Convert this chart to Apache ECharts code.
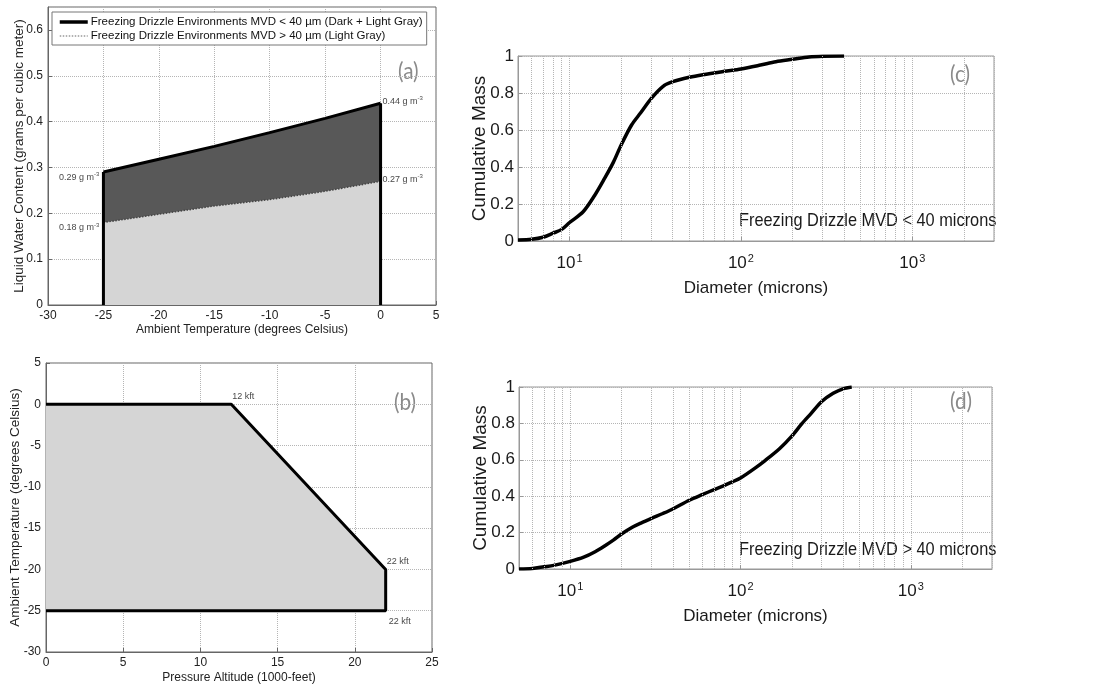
<!DOCTYPE html>
<html><head><meta charset="utf-8">
<script src="https://cdn.jsdelivr.net/npm/echarts@6/dist/echarts.min.js"></script>
<style>html,body{margin:0;padding:0;background:#fff}#c{width:1115px;height:685px}</style>
</head><body><div id="c"></div>
<script>
// ---------- Panel (a): LWC vs temperature ----------
const aTemps = [-25, -20, -15, -10, -5, 0];
const aUpperLWC = [0.29, 0.318, 0.346, 0.376, 0.407, 0.44];
const aLowerLWC = [0.18, 0.198, 0.216, 0.23, 0.248, 0.27];
const aNoteX = [0, -25, -25, 0];
const aNoteY = [0.44, 0.29, 0.18, 0.27];
const aNoteText = ['0.44', '0.29', '0.18', '0.27'];
const legendNames = [
  'Freezing Drizzle Environments MVD < 40 \u00b5m (Dark + Light Gray)',
  'Freezing Drizzle Environments MVD > 40 \u00b5m (Light Gray)'
];
// ---------- Panel (b): temperature vs altitude envelope ----------
const bAlt = [0, 12, 22, 22, 0];
const bTemp = [0, 0, -20, -25, -25];
const bNoteX = [12, 22, 22];
const bNoteY = [0, -20, -25];
const bNoteText = ['12 kft', '22 kft', '22 kft'];
// ---------- Panel (c): cumulative mass, MVD < 40 ----------
const cDiam = [5, 6, 7, 8, 9, 10, 12, 14, 16, 18, 20, 23, 26, 30, 35, 40, 50, 60, 80, 100, 130, 160, 200, 250, 300, 400];
const cMass = [0.005, 0.009, 0.02, 0.042, 0.063, 0.1, 0.158, 0.246, 0.338, 0.425, 0.519, 0.627, 0.693, 0.771, 0.835, 0.861, 0.885, 0.899, 0.917, 0.93, 0.951, 0.969, 0.982, 0.995, 0.999, 1.0];
// ---------- Panel (d): cumulative mass, MVD > 40 ----------
const dDiam = [5, 6, 7, 8, 10, 12, 14, 16, 18, 20, 23, 26, 30, 35, 40, 50, 60, 70, 80, 90, 100, 120, 140, 170, 200, 230, 260, 300, 350, 400, 450];
const dMass = [0.0, 0.003, 0.012, 0.02, 0.042, 0.065, 0.095, 0.128, 0.16, 0.192, 0.228, 0.252, 0.278, 0.305, 0.33, 0.378, 0.41, 0.436, 0.458, 0.48, 0.5, 0.55, 0.597, 0.662, 0.73, 0.8, 0.855, 0.92, 0.965, 0.99, 1.0];
// log-axis minor grid positions
const logMinorGrid = [6, 7, 8, 9, 20, 30, 40, 50, 60, 70, 80, 90, 200, 300, 400, 500, 600, 700, 800, 900, 2000];

const zip = (xs, ys) => xs.map((x, i) => [x, ys[i]]);
const ARIAL = "'Liberation Sans', Arial, sans-serif";
const dotted = { type: 'dotted', color: '#b5b5b5', width: 1 };

function smallAxis(extra) {
  return Object.assign({
    axisLine: { show: true, onZero: false, lineStyle: { color: '#666', width: 1 } },
    axisTick: { show: true, inside: true, length: 4, lineStyle: { color: '#666' } },
    axisLabel: { fontSize: 12, color: '#222', fontFamily: ARIAL, margin: 5 },
    splitLine: { show: true, lineStyle: dotted },
    nameLocation: 'middle', nameMoveOverlap: false,
    nameTextStyle: { fontSize: 12, color: '#222', fontFamily: ARIAL }
  }, extra);
}
function bigY(grid) {
  return {
    gridIndex: grid, type: 'value', min: 0, max: 1, interval: 0.2,
    axisLine: { show: true, lineStyle: { color: '#999' } },
    axisTick: { show: true, inside: true, length: 4, lineStyle: { color: '#999' } },
    axisLabel: { fontSize: 17, color: '#1a1a1a', fontFamily: ARIAL, margin: 4 },
    splitLine: { show: true, lineStyle: dotted },
    name: 'Cumulative Mass', nameLocation: 'middle', nameGap: 29, nameMoveOverlap: false,
    nameTextStyle: { fontSize: 19, color: '#1a1a1a', fontFamily: ARIAL }
  };
}
function bigX(grid) {
  return {
    gridIndex: grid, type: 'log', logBase: 10, min: 5, max: 3000,
    axisLine: { show: true, lineStyle: { color: '#999' } },
    axisTick: { show: true, inside: true, length: 4, lineStyle: { color: '#999' } },
    axisLabel: {
      margin: 12, showMinLabel: false, showMaxLabel: false,
      formatter: v => { const e = Math.log10(v), r = Math.round(e); return Math.abs(e - r) < 1e-6 ? '{b|10}{s|' + r + '}' : ''; },
      rich: {
        b: { fontSize: 17, color: '#1a1a1a', fontFamily: ARIAL, lineHeight: 20 },
        s: { fontSize: 11, color: '#1a1a1a', fontFamily: ARIAL, verticalAlign: 'top', lineHeight: 10, padding: [0, 0, 12, 1] }
      }
    },
    splitLine: { show: true, lineStyle: dotted },
    name: 'Diameter (microns)', nameLocation: 'middle', nameGap: 39, nameMoveOverlap: false,
    nameTextStyle: { fontSize: 17, color: '#1a1a1a', fontFamily: ARIAL }
  };
}
function minorMarks() {
  return {
    silent: true, symbol: 'none', animation: false,
    label: { show: false },
    lineStyle: { type: 'dotted', color: '#b5b5b5', width: 1 },
    emphasis: { disabled: true },
    data: logMinorGrid.map(v => ({ xAxis: v }))
  };
}
const noteLabel = {
  show: true, fontFamily: ARIAL,
  rich: {
    n: { fontSize: 9, color: '#111', fontFamily: ARIAL },
    s: { fontSize: 6, color: '#111', fontFamily: ARIAL, verticalAlign: 'top', padding: [0, 0, 5, 0] }
  }
};
const letter = { fontSize: 23, fill: '#8a8a8a', fontFamily: 'Lato, sans-serif' };

const chart = echarts.init(document.getElementById('c'), null, { renderer: 'canvas' });
chart.setOption({
  animation: false,
  backgroundColor: '#fff',
  textStyle: { fontFamily: ARIAL },
  grid: [
    { left: 48, top: 7, width: 388, height: 298, show: true, borderColor: '#666', borderWidth: 1, backgroundColor: 'transparent' },
    { left: 46, top: 363, width: 386, height: 289, show: true, borderColor: '#666', borderWidth: 1, backgroundColor: 'transparent' },
    { left: 518, top: 56, width: 476, height: 185, show: true, borderColor: '#999', borderWidth: 1, backgroundColor: 'transparent' },
    { left: 519, top: 387, width: 473, height: 182, show: true, borderColor: '#999', borderWidth: 1, backgroundColor: 'transparent' }
  ],
  legend: {
    data: [
      { name: legendNames[0], lineStyle: { color: '#000', width: 3.5 } },
      { name: legendNames[1], lineStyle: { color: '#999', width: 1.5, type: 'dotted' } }
    ],
    orient: 'vertical', left: 52, top: 12,
    backgroundColor: '#fff', borderColor: '#777', borderWidth: 1,
    padding: [4, 4, 3, 6], itemGap: 2, itemWidth: 28, itemHeight: 11,
    itemStyle: { color: 'transparent', borderColor: 'transparent', borderWidth: 0, opacity: 0 },
    textStyle: { fontSize: 11.5, color: '#111', fontFamily: ARIAL, padding: [0, 0, 0, -2] },
    selectedMode: false
  },
  xAxis: [
    smallAxis({ gridIndex: 0, type: 'value', min: -30, max: 5, interval: 5, name: 'Ambient Temperature (degrees Celsius)', nameGap: 19 }),
    smallAxis({ gridIndex: 1, type: 'value', min: 0, max: 25, interval: 5, name: 'Pressure Altitude (1000-feet)', nameGap: 20 }),
    bigX(2),
    bigX(3)
  ],
  yAxis: [
    smallAxis({ gridIndex: 0, type: 'value', min: 0, max: 0.65, interval: 0.1, name: 'Liquid Water Content (grams per cubic meter)', nameGap: 22,
      nameTextStyle: { fontSize: 13.5, color: '#222', fontFamily: ARIAL },
      axisLabel: { fontSize: 12, color: '#222', fontFamily: ARIAL, margin: 5, showMaxLabel: false } }),
    smallAxis({ gridIndex: 1, type: 'value', min: -30, max: 5, interval: 5, name: 'Ambient Temperature (degrees Celsius)', nameGap: 24,
      nameTextStyle: { fontSize: 13.5, color: '#222', fontFamily: ARIAL } }),
    bigY(2),
    bigY(3)
  ],
  series: [
    // panel (a)
    { name: legendNames[0], type: 'line', xAxisIndex: 0, yAxisIndex: 0, data: zip(aTemps, aUpperLWC),
      symbol: 'none', lineStyle: { color: '#000', width: 3 }, itemStyle: { color: '#000' },
      areaStyle: { color: '#585858', opacity: 1 }, z: 2 },
    { name: legendNames[1], type: 'line', xAxisIndex: 0, yAxisIndex: 0, data: zip(aTemps, aLowerLWC),
      symbol: 'none', lineStyle: { color: '#444', width: 1.5, type: 'dotted' }, itemStyle: { color: '#999' },
      areaStyle: { color: '#d5d5d5', opacity: 1 }, z: 3 },
    { type: 'line', xAxisIndex: 0, yAxisIndex: 0, data: [[aTemps[0], 0], [aTemps[0], aUpperLWC[0]]],
      symbol: 'none', lineStyle: { color: '#000', width: 3 }, z: 4 },
    { type: 'line', xAxisIndex: 0, yAxisIndex: 0, data: [[aTemps[aTemps.length - 1], 0], [aTemps[aTemps.length - 1], aUpperLWC[aUpperLWC.length - 1]]],
      symbol: 'none', lineStyle: { color: '#000', width: 3 }, z: 4 },
    { type: 'scatter', xAxisIndex: 0, yAxisIndex: 0, symbolSize: 0, z: 6, silent: true,
      data: aNoteX.map((x, i) => ({ value: [x, aNoteY[i]], txt: aNoteText[i],
        label: x < -1 ? { position: 'left', distance: 4, offset: [0, 5] } : { position: 'right', distance: 2, offset: [0, -2] } })),
      label: Object.assign({ formatter: p => '{n|' + p.data.txt + ' g m}{s|-3}' }, noteLabel) },
    // panel (b)
    { type: 'custom', xAxisIndex: 1, yAxisIndex: 1, data: [0], silent: true, z: 2,
      renderItem: (params, api) => ({
        type: 'polygon',
        shape: { points: bAlt.map((x, i) => api.coord([x, bTemp[i]])) },
        style: { fill: '#d5d5d5', stroke: 'none' }
      }) },
    { type: 'line', xAxisIndex: 1, yAxisIndex: 1, data: zip(bAlt, bTemp), symbol: 'none',
      lineStyle: { color: '#000', width: 3 }, z: 4 },
    { type: 'scatter', xAxisIndex: 1, yAxisIndex: 1, symbolSize: 0, z: 6, silent: true,
      data: bNoteX.map((x, i) => ({ value: [x, bNoteY[i]], txt: bNoteText[i],
        label: i === 2 ? { position: 'right', offset: [-2, 11] } : { position: 'right', offset: [-4, -8] } })),
      label: { show: true, formatter: p => p.data.txt, fontSize: 9, color: '#111', fontFamily: ARIAL } },
    // panel (c)
    { type: 'line', xAxisIndex: 2, yAxisIndex: 2, data: zip(cDiam, cMass), smooth: 0.3, symbol: 'none',
      lineStyle: { color: '#000', width: 3.5 }, z: 4, markLine: minorMarks() },
    // panel (d)
    { type: 'line', xAxisIndex: 3, yAxisIndex: 3, data: zip(dDiam, dMass), smooth: 0.3, symbol: 'none',
      lineStyle: { color: '#000', width: 3.5 }, z: 4, markLine: minorMarks() }
  ],
  graphic: [
    { type: 'text', x: 398, y: 60, scaleX: 0.9, style: Object.assign({ text: '(a)' }, letter) },
    { type: 'text', x: 394, y: 391, scaleX: 0.9, style: Object.assign({ text: '(b)' }, letter) },
    { type: 'text', x: 950, y: 63, scaleX: 0.9, style: Object.assign({ text: '(c)' }, letter) },
    { type: 'text', x: 950, y: 390, scaleX: 0.9, style: Object.assign({ text: '(d)' }, letter) },
    { type: 'text', x: 739, y: 211, scaleX: 0.86, style: { text: 'Freezing Drizzle MVD < 40 microns', fontSize: 19, fill: '#1a1a1a', fontFamily: ARIAL } },
    { type: 'text', x: 739, y: 540, scaleX: 0.86, style: { text: 'Freezing Drizzle MVD > 40 microns', fontSize: 19, fill: '#1a1a1a', fontFamily: ARIAL } }
  ]
});
</script></body></html>
